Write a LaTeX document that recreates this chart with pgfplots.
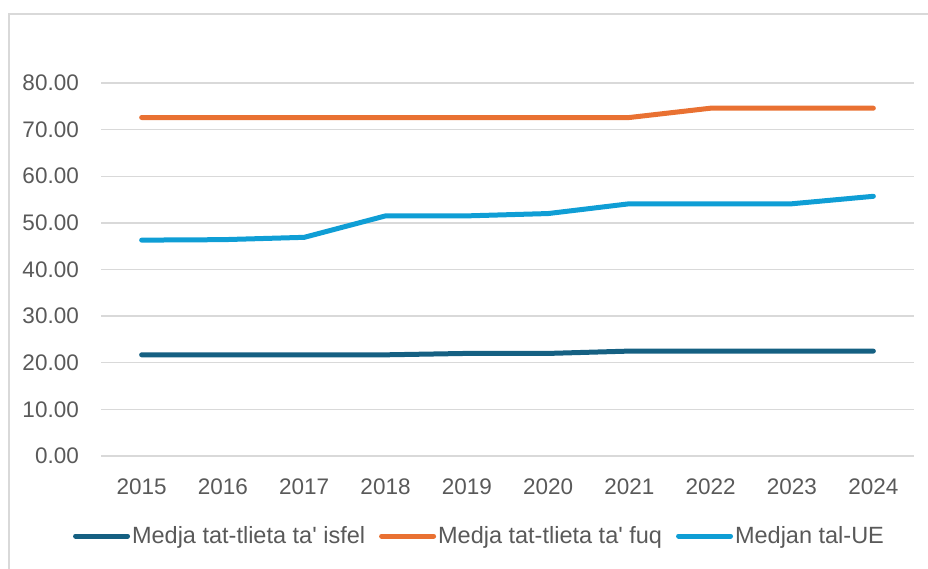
\documentclass[border=0pt]{standalone}
\usepackage{pgfplots}
\pgfplotsset{compat=1.18}
\usepackage{fontspec}
\setmainfont{Liberation Sans}
\newfontfamily\legendfont{Liberation Sans}
\definecolor{cdark}{HTML}{156082}
\definecolor{corange}{HTML}{E97132}
\definecolor{clight}{HTML}{0F9ED5}
\definecolor{cgrid}{HTML}{D9D9D9}
\definecolor{ctext}{HTML}{595959}
\begin{document}
\begin{tikzpicture}[x=1pt,y=1pt]
\path[use as bounding box] (0,0) rectangle (928,568);
\draw[cgrid, line width=1.5pt] (9,-2) -- (9,554) -- (930,554);
\begin{axis}[
  at={(101pt,112pt)}, anchor=south west,
  scale only axis, width=813pt, height=373pt,
  xmin=2014.5, xmax=2024.5, ymin=0, ymax=80,
  xtick={2015,...,2024},
  xticklabels={2015,2016,2017,2018,2019,2020,2021,2022,2023,2024},
  ytick={0,10,...,80},
  yticklabels={0.00,10.00,20.00,30.00,40.00,50.00,60.00,70.00,80.00},
  major tick length=0pt,
  axis line style={draw=none},
  ymajorgrids,
  grid style={cgrid, line width=1.3pt},
  tick label style={font=\fontsize{22.5}{27}\selectfont, text=ctext},
  xticklabel style={anchor=north, inner sep=0pt, yshift=-23pt},
  yticklabel style={anchor=east, inner sep=0pt, xshift=-22pt},
  clip=false,
  legend style={at={(378.5pt,-80pt)}, anchor=center, draw=none, fill=none,
    font=\legendfont\fontsize{23.5}{28}\selectfont, text=ctext, legend columns=3,
    /tikz/every even column/.append style={column sep=12pt}},
  legend cell align=left,
  every axis plot/.append style={line width=5pt, line cap=round, line join=round},
]
\addlegendimage{legend image code/.code={\draw[cdark, line width=5pt, line cap=round] (0pt,0pt) -- (52pt,0pt);}}
\addlegendentry{Medja tat-tlieta ta' isfel}
\addlegendimage{legend image code/.code={\draw[corange, line width=5pt, line cap=round] (0pt,0pt) -- (52pt,0pt);}}
\addlegendentry{Medja tat-tlieta ta' fuq}
\addlegendimage{legend image code/.code={\draw[clight, line width=5pt, line cap=round] (0pt,0pt) -- (52pt,0pt);}}
\addlegendentry{Medjan tal-UE}
\addplot[cdark, forget plot] coordinates {(2015,21.7) (2016,21.7) (2017,21.7) (2018,21.7) (2019,22.0) (2020,22.0) (2021,22.5) (2022,22.5) (2023,22.5) (2024,22.5)};
\addplot[corange, forget plot] coordinates {(2015,72.6) (2016,72.6) (2017,72.6) (2018,72.6) (2019,72.6) (2020,72.6) (2021,72.6) (2022,74.6) (2023,74.6) (2024,74.6)};
\addplot[clight, forget plot] coordinates {(2015,46.3) (2016,46.4) (2017,46.9) (2018,51.5) (2019,51.5) (2020,52.0) (2021,54.1) (2022,54.1) (2023,54.1) (2024,55.7)};
\end{axis}
\end{tikzpicture}
\end{document}
